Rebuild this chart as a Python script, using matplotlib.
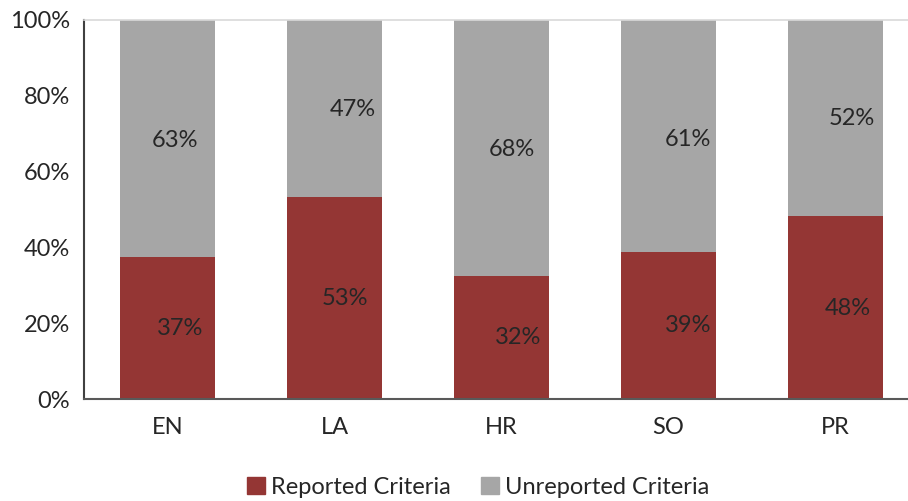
import matplotlib
matplotlib.use('Agg')
import matplotlib.pyplot as plt
import matplotlib.patches as mpatches
import numpy as np

categories = ['EN', 'LA', 'HR', 'SO', 'PR']
reported = [37.4, 53.4, 32.4, 38.8, 48.3]
unreported = [62.6, 46.6, 67.6, 61.2, 51.7]

# hand-placed label spots (Excel-style dragged labels)
rep_label_dx = [0.075, 0.063, 0.10, 0.117, 0.075]
rep_label_y = [18.7, 26.6, 16.1, 19.3, 24.0]
unrep_label_dx = [0.045, 0.11, 0.063, 0.117, 0.099]
unrep_label_y = [68.3, 76.3, 65.7, 68.6, 73.9]

red = '#943634'
gray = '#A6A6A6'
txt = '#262626'
fs = 17

plt.rcParams['font.family'] = ['Lato', 'DejaVu Sans']

fig = plt.figure(figsize=(9.08, 5.01), dpi=100)
ax = fig.add_axes([84 / 908, 1 - 399 / 501, 835 / 908, 379 / 501])

x = np.arange(len(categories))
w = 0.569
ax.bar(x, reported, w, color=red, label='Reported Criteria')
ax.bar(x, unreported, w, bottom=reported, color=gray, label='Unreported Criteria')

for i in range(len(categories)):
    ax.text(x[i] + rep_label_dx[i], rep_label_y[i], f'{round(reported[i])}%',
            ha='center', va='center', fontsize=fs, color=txt)
    ax.text(x[i] + unrep_label_dx[i], unrep_label_y[i], f'{round(unreported[i])}%',
            ha='center', va='center', fontsize=fs, color=txt)

ax.set_xlim(-0.5, 4.5)
ax.set_ylim(0, 100)
ax.set_yticks(range(0, 101, 20))
ax.set_yticklabels([f'{v}%' for v in range(0, 101, 20)])
ax.set_xticks(x)
ax.set_xticklabels(categories)
ax.tick_params(axis='y', length=0, pad=10, labelsize=fs, colors=txt)
ax.tick_params(axis='x', length=0, pad=13, labelsize=fs, colors=txt)

ax.spines['right'].set_visible(False)
ax.spines['top'].set_color('#D9D9D9')
ax.spines['top'].set_linewidth(1.2)
ax.spines['left'].set_color('#404040')
ax.spines['left'].set_linewidth(1.5)
ax.spines['bottom'].set_color('#595959')
ax.spines['bottom'].set_linewidth(1.5)

handles = [mpatches.Patch(color=red, label='Reported Criteria'),
           mpatches.Patch(color=gray, label='Unreported Criteria')]
fig.legend(handles=handles, loc='center', bbox_to_anchor=(478 / 908, 1 - 487 / 501),
           ncol=2, frameon=False, fontsize=fs, handlelength=0.76, handleheight=0.76,
           handletextpad=0.25, columnspacing=1.3, labelcolor=txt)

fig.savefig('out.png', dpi=100)
